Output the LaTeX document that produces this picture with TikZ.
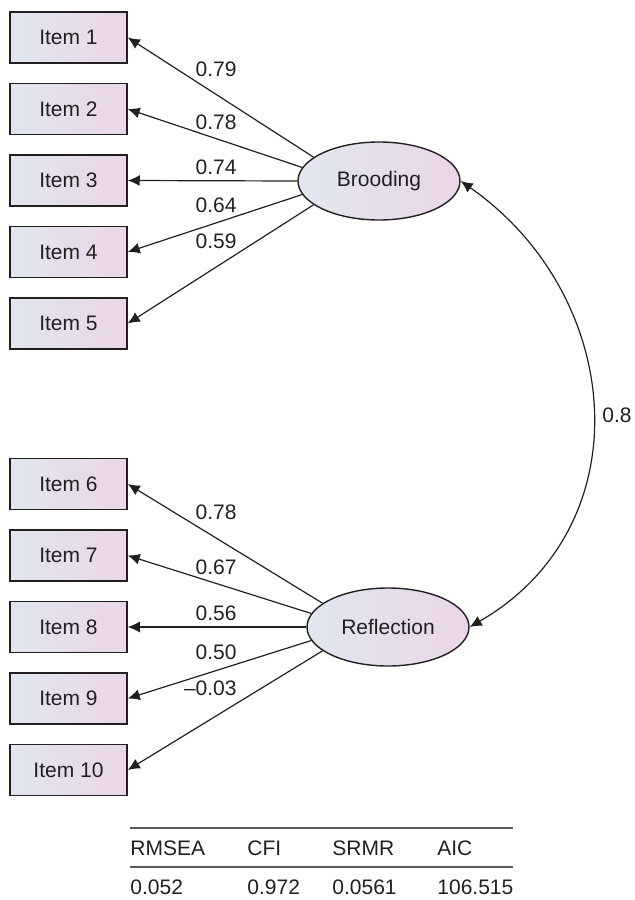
\documentclass[tikz,border=0pt]{standalone}
\usepackage{fontspec}
\setmainfont{Liberation Sans}
\usepackage{tikz}
\usetikzlibrary{shapes.geometric,arrows.meta}
\definecolor{boxleft}{RGB}{225,230,240}
\definecolor{boxright}{RGB}{234,214,232}
\definecolor{inkgray}{RGB}{35,31,32}
\definecolor{rulegray}{RGB}{90,90,90}
\tikzset{itembox/.style={draw=inkgray, line width=0.75pt,
         left color=boxleft, right color=boxright,
         minimum width=58.5pt, minimum height=25.5pt, inner sep=0pt},
         factor/.style={ellipse, draw=inkgray, line width=0.7pt,
         left color=boxleft, right color=boxright,
         minimum width=81pt, minimum height=39pt, inner sep=0pt},
         load/.style={draw=inkgray, line width=0.6pt, -{Latex[length=6pt,width=5.5pt]}},
         coef/.style={inner sep=0pt}}

\begin{document}
\begin{tikzpicture}[x=0.5pt,y=0.5pt,font=\fontsize{10.5}{12.6}\selectfont,text=inkgray]
\useasboundingbox (0,0) rectangle (634,-900);

% latent factors
\node [factor] (brood) at (379,-181) {Brooding};
\node [factor] (refl) at (388,-627) {Reflection};

% indicators
\foreach \i/\y in {1/37.5,2/109,3/180.5,4/252,5/323.5,6/484,7/555.5,8/627,9/698.5,10/770}
  \node [itembox] (item\i) at (68.5,-\y) {Item \i};

% loadings
\foreach \i/\a in {1/160,2/170,3/180,4/190,5/200}
  \draw [load] (brood.\a) -- (item\i.east);
\foreach \i/\a in {6/160,7/170,8/180,9/190,10/200}
  \draw [load] (refl.\a) -- (item\i.east);

\foreach \v/\y [count=\k] in {0.79/69,0.78/122,0.74/167,0.64/205,0.59/241,
                              0.78/512,0.67/567,0.56/613,0.50/652,–0.03/688}
  \node [coef, anchor=east] (coef\k) at (237,-\y) {\v};

% correlation
\draw [draw=inkgray, line width=0.6pt,
       {Latex[length=6pt,width=5.5pt]}-{Latex[length=6pt,width=5.5pt]}]
  (brood.east) to [out=-35, in=30, looseness=1.15] (refl.east);
\node [coef, anchor=west] (corr) at (602,-415) {0.8};

% fit indices
\draw [rulegray, line width=1pt] (130,-828) -- (513,-828);
\draw [rulegray, line width=1pt] (130,-867) -- (513,-867);
\foreach \h/\v/\x [count=\k] in {RMSEA/0.052/130,CFI/0.972/247,SRMR/0.0561/332,AIC/106.515/437}{
  \node [coef, anchor=west] (fit\k) at (\x,-848) {\h};
  \node [coef, anchor=west] (val\k) at (\x,-887) {\v};
}
\end{tikzpicture}
\end{document}
